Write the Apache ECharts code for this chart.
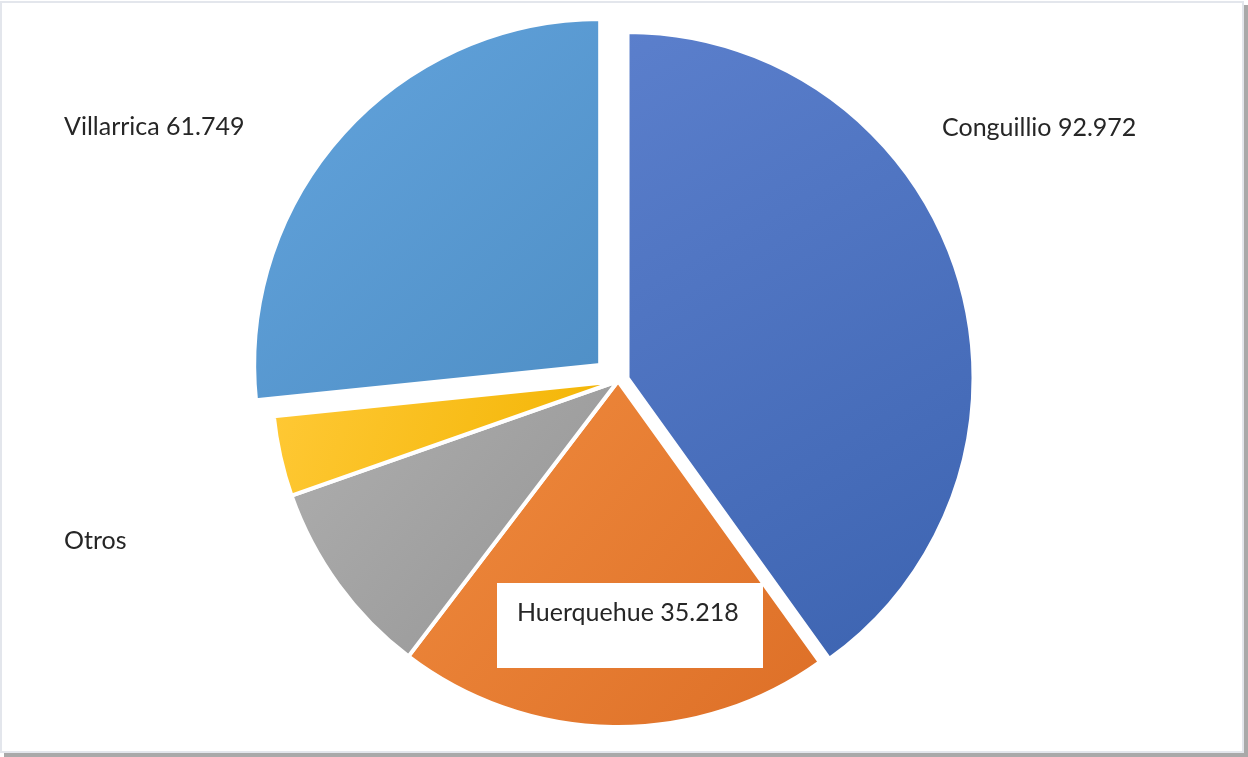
<!DOCTYPE html>
<html>
<head>
<meta charset="utf-8">
<script src="https://cdn.jsdelivr.net/npm/echarts@6/dist/echarts.min.js"></script>
<style>
  html, body { margin: 0; padding: 0; background: #fff; }
  #wrap { position: relative; width: 1248px; height: 757px; overflow: hidden; }
  #frame {
    position: absolute; left: 0; top: 1px;
    width: 1240px; height: 748px;
    border: 2px solid #e3e6ec;
    box-shadow: 4px 4px 0 #a9a9a9;
    background: #fff;
  }
  #chart { position: absolute; left: 0; top: 0; width: 1248px; height: 757px; }
</style>
</head>
<body>
<div id="wrap">
  <div id="frame"></div>
  <div id="chart"></div>
</div>
<script>
// datos
var names = ["Conguillio", "Huerquehue", "", "Otros", "Villarrica"];
var values = [92.972, 47.0, 21.5, 8.7, 61.749];
var labelValues = ["92.972", "35.218", null, null, "61.749"];

// estilos
var colors = [
  ["#5b7fcc", "#3c63b0"],
  ["#f08b3e", "#dd6f27"],
  ["#afafaf", "#949494"],
  ["#ffc936", "#f2b300"],
  ["#63a4dd", "#4f8fc6"]
];
var labelPos = [
  { x: 942, y: 128, align: "left", verticalAlign: "middle" },
  { x: 497, y: 583, align: "left", verticalAlign: "top" },
  null,
  { x: 64, y: 541, align: "left", verticalAlign: "middle" },
  { x: 64, y: 127, align: "left", verticalAlign: "middle" }
];
// porciones separadas: indice -> distancia
var explode = { 0: 10, 4: 24 };
var cx = 618, cy = 381, R = 346;

function grad(c) {
  return {
    type: "linear", x: 0, y: 0, x2: 1, y2: 1,
    colorStops: [{ offset: 0, color: c[0] }, { offset: 1, color: c[1] }]
  };
}

var total = values.reduce(function (a, b) { return a + b; }, 0);
function midAngle(i) {
  var cum = 0;
  for (var k = 0; k < i; k++) cum += values[k];
  return (cum + values[i] / 2) / total * 2 * Math.PI;
}

function buildData(visible) {
  return names.map(function (n, i) {
    var show = visible(i);
    var txt = n;
    if (labelValues[i]) txt = n + " " + labelValues[i];
    var item = {
      name: n,
      value: values[i],
      itemStyle: show
        ? { color: grad(colors[i]), borderColor: "#fff", borderWidth: 4 }
        : { color: "transparent", borderColor: "transparent", borderWidth: 0 },
      label: { show: show && !!txt, formatter: txt }
    };
    if (i === 1) {
      item.label.backgroundColor = "#fff";
      item.label.padding = [15, 0, 40, 20];
      item.label.width = 246;
    }
    return item;
  });
}

var labelStyle = {
  position: "outside",
  fontFamily: "Lato",
  fontSize: 25,
  lineHeight: 30,
  color: "#262626"
};

function layout(params) {
  var p = labelPos[params.dataIndex];
  return p ? p : {};
}

function makeSeries(center, visible) {
  return {
    type: "pie",
    center: center,
    radius: R,
    startAngle: 90,
    clockwise: true,
    avoidLabelOverlap: false,
    label: labelStyle,
    labelLine: { show: false },
    labelLayout: layout,
    emphasis: { disabled: true },
    data: buildData(visible)
  };
}

var series = [makeSeries([cx, cy], function (i) { return !(i in explode); })];
Object.keys(explode).forEach(function (key) {
  var i = +key;
  var a = midAngle(i);
  var c = [cx + Math.sin(a) * explode[key], cy - Math.cos(a) * explode[key]];
  series.push(makeSeries(c, function (j) { return j === i; }));
});

var chart = echarts.init(document.getElementById("chart"), null, { renderer: "canvas" });
chart.setOption({
  animation: false,
  series: series
});
</script>
</body>
</html>
